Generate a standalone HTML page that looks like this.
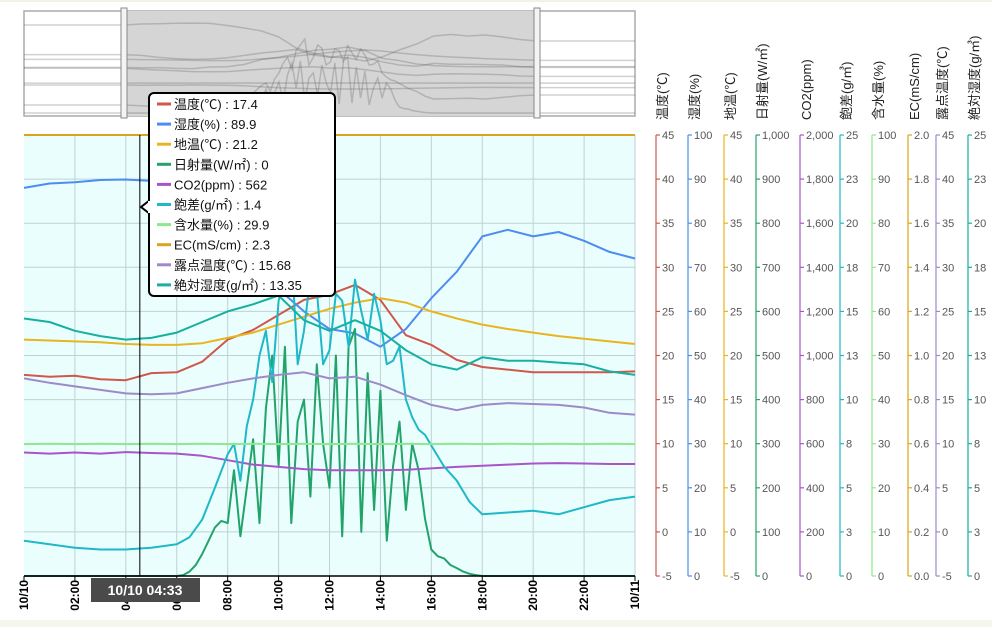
<!DOCTYPE html>
<html><head><meta charset="utf-8">
<style>
html,body{margin:0;padding:0;background:#fff;}
body{width:992px;height:627px;overflow:hidden;font-family:"Liberation Sans","Noto Sans CJK JP",sans-serif;}
svg text{font-family:"Liberation Sans","Noto Sans CJK JP",sans-serif;}
</style></head>
<body>
<svg id="chart" width="992" height="627" xmlns="http://www.w3.org/2000/svg">
<rect x="0" y="0" width="992" height="2" fill="#f3f3e3"/>
<rect x="0" y="620" width="992" height="7" fill="#f6f6ec"/>
<g id="nav"></g>
<g id="plot"></g>
<g id="axes"></g>
<g id="xaxis"></g>
<g id="tip"></g>
</svg>
<script>
const hoursHourly=[0,1,2,3,4,5,6,7,8,9,10,11,12,13,14,15,16,17,18,19,20,21,22,23,24];
const hoursHalf=[0,1,2,3,4,5,6,6.5,7,7.5,8,8.25,8.5,8.75,9,9.25,9.5,9.75,10,10.25,10.5,10.75,11,11.25,11.5,11.75,12,12.25,12.5,12.75,13,13.25,13.5,13.75,14,14.25,14.5,14.75,15,15.25,15.5,15.75,16,16.5,17,17.5,18,19,20,21,22,23,24];
const hoursSolar=[0,2,4,6,6.25,6.5,6.75,7,7.25,7.5,7.75,8,8.25,8.5,8.75,9,9.25,9.5,9.75,10,10.25,10.5,10.75,11,11.25,11.5,11.75,12,12.25,12.5,12.75,13,13.25,13.5,13.75,14,14.25,14.5,14.75,15,15.25,15.5,15.75,16,16.25,16.5,16.75,17,17.25,17.5,17.75,18,20,22,24];
const tempVals=[17.8,17.6,17.7,17.3,17.2,18.0,18.1,19.3,21.8,22.9,24.6,26.3,26.9,28.0,26.3,22.3,21.2,19.5,18.7,18.4,18.1,18.1,18.1,18.1,18.2];
const humVals=[88,89,89.3,89.8,89.9,89.6,87.5,85,82,76,65,60,56,55,52,56,63,69,77,78.5,77,78,76,73.5,72];
const soilTempVals=[21.8,21.7,21.6,21.5,21.3,21.2,21.2,21.4,22.0,22.6,23.5,24.4,25.3,26.0,26.5,26.0,25.0,24.2,23.5,23.0,22.6,22.2,21.9,21.6,21.3];
const solarVals=[0,0,0,0,2,10,25,50,80,110,125,120,240,90,200,310,120,380,500,250,520,120,350,400,180,480,300,200,500,90,520,560,100,460,150,420,80,250,350,150,300,240,130,60,45,40,25,18,10,5,2,0,0,0,0];
const co2Vals=[560,555,560,555,562,558,555,545,525,505,495,485,480,480,480,482,488,495,500,505,510,512,510,508,508];
const vpdVals=[2.0,1.8,1.6,1.5,1.5,1.6,1.8,2.2,3.2,5,6.9,7.5,5.4,8.5,10.0,12.5,13.9,11,15.6,17,18.5,12,13.9,17,16.2,12,12.8,16,15.6,13,16.8,15,13.4,16,14.5,12,12.2,13,10.0,9,8.3,8,7.4,6.2,5.4,4.2,3.5,3.6,3.7,3.5,3.9,4.3,4.5];
const moistureVals=[29.9,30,29.9,30,29.9,30,29.9,30,29.9,30,29.9,30,29.9,30,29.9,30,29.9,30,29.9,30,29.9,30,29.9,30,29.9];
const ecVals=[2.3,2.3,2.3,2.3,2.3,2.3,2.3,2.3,2.3,2.3,2.3,2.3,2.3,2.3,2.3,2.3,2.3,2.3,2.3,2.3,2.3,2.3,2.3,2.3,2.3];
const dewVals=[17.4,16.9,16.5,16.1,15.7,15.6,15.7,16.3,16.9,17.4,17.8,18.1,17.4,17.6,16.7,15.5,14.4,13.8,14.4,14.6,14.5,14.4,14.1,13.5,13.3];
const absHumVals=[14.6,14.4,13.9,13.6,13.4,13.5,13.8,14.4,15.0,15.4,15.9,14.5,13.9,14.5,13.9,12.8,12.0,11.7,12.4,12.2,12.2,12.1,12.0,11.6,11.4];
const xTickLabels=["10/10","02:00","04:00","06:00","08:00","10:00","12:00","14:00","16:00","18:00","20:00","22:00","10/11"];
const tipLabels=["温度(℃) : 17.4","湿度(%) : 89.9","地温(℃) : 21.2","日射量(W/㎡) : 0","CO2(ppm) : 562","飽差(g/㎡) : 1.4","含水量(%) : 29.9","EC(mS/cm) : 2.3","露点温度(℃) : 15.68","絶対湿度(g/㎡) : 13.35"];

const NS="http://www.w3.org/2000/svg";
const X0=24,X1=635,Y0=135,Y1=576;
function el(tag,attrs,parent){const e=document.createElementNS(NS,tag);for(const k in attrs)e.setAttribute(k,attrs[k]);parent.appendChild(e);return e;}
function xs(h){return X0+(X1-X0)*h/24;}
function ys(v,min,max){let f=(v-min)/(max-min);f=Math.max(0,Math.min(1,f));return Y1-(Y1-Y0)*f;}

const series=[
 {name:"温度(℃)",key:"temp",t:hoursHourly,v:tempVals,min:-5,max:45,color:"#d0574b",ax:656,ticks:[-5,0,5,10,15,20,25,30,35,40,45]},
 {name:"湿度(%)",key:"hum",t:hoursHourly,v:humVals,min:0,max:100,color:"#4d8cf0",ax:688,ticks:[0,10,20,30,40,50,60,70,80,90,100]},
 {name:"地温(℃)",key:"soil",t:hoursHourly,v:soilTempVals,min:-5,max:45,color:"#e8b520",ax:724,ticks:[-5,0,5,10,15,20,25,30,35,40,45]},
 {name:"日射量(W/㎡)",key:"solar",t:hoursSolar,v:solarVals,min:0,max:1000,color:"#22a36a",ax:756,ticks:[0,100,200,300,400,500,600,700,800,900,1000],fmt:1},
 {name:"CO2(ppm)",key:"co2",t:hoursHourly,v:co2Vals,min:0,max:2000,color:"#a855c8",ax:800,ticks:[0,200,400,600,800,1000,1200,1400,1600,1800,2000],fmt:1},
 {name:"飽差(g/㎥)",key:"vpd",t:hoursHalf,v:vpdVals,min:0,max:25,color:"#1eb8c8",ax:840,ticks:["0","3","5","8","10","13","15","18","20","23","25"]},
 {name:"含水量(%)",key:"moist",t:hoursHourly,v:moistureVals,min:0,max:100,color:"#8ee88e",ax:872,ticks:[0,10,20,30,40,50,60,70,80,90,100]},
 {name:"EC(mS/cm)",key:"ec",t:hoursHourly,v:ecVals,min:0,max:2,color:"#d9a520",ax:908,ticks:["0.0","0.2","0.4","0.6","0.8","1.0","1.2","1.4","1.6","1.8","2.0"]},
 {name:"露点温度(℃)",key:"dew",t:hoursHourly,v:dewVals,min:-5,max:45,color:"#9d8ac8",ax:936,ticks:[-5,0,5,10,15,20,25,30,35,40,45]},
 {name:"絶対湿度(g/㎥)",key:"abs",t:hoursHourly,v:absHumVals,min:0,max:25,color:"#17b0a0",ax:968,ticks:["0","3","5","8","10","13","15","18","20","23","25"]}
];

// navigator
const nav=document.getElementById('nav');
let r=el('rect',{x:24,y:11,width:611,height:105,fill:'#fff',stroke:'#aaa','stroke-width':1.5},nav);


r=el('rect',{x:124,y:11,width:413,height:105,fill:'#d5d5d5'},nav);


series.forEach(s=>{
  if(s.key==='ec')return;
  const nx=h=>124+413*h/24, ny=v=>{let f=(v-s.min)/(s.max-s.min);f=Math.max(0,Math.min(1,f));return 113-100*f;};
  let d='M24,'+ny(s.v[0]).toFixed(1)+' L'+nx(0)+','+ny(s.v[0]).toFixed(1);
  s.t.forEach((h,i)=>{d+=' L'+nx(h).toFixed(1)+','+ny(s.v[i]).toFixed(1);});
  d+=' L635,'+ny(s.v[s.v.length-1]).toFixed(1);
  const p=el('path',{d:d,fill:'none',stroke:'rgba(90,90,90,0.28)','stroke-width':1.5},nav);
  
  
});
[124,537].forEach((x,i)=>{
  const h=el('rect',{x:x-3,y:8,width:6,height:110,fill:'#f4f4f4',stroke:'#888','stroke-width':1},nav);
  
  
});

// plot
const plot=document.getElementById('plot');
r=el('rect',{x:X0,y:Y0,width:X1-X0,height:Y1-Y0,fill:'#eafefe'},plot);


for(let i=1;i<10;i++){const y=Y0+i*(Y1-Y0)/10;const g=el('line',{x1:X0,x2:X1,y1:y,y2:y,stroke:'#bfd2d2','stroke-width':1},plot);}
for(let i=1;i<=12;i++){const x=xs(i*2);const g=el('line',{x1:x,x2:x,y1:Y0,y2:Y1,stroke:'#bfd2d2','stroke-width':1},plot);}
series.forEach(s=>{
  let d='';s.t.forEach((h,i)=>{d+=(i?' L':'M')+xs(h).toFixed(1)+','+ys(s.v[i],s.min,s.max).toFixed(1);});
  const p=el('path',{d:d,fill:'none',stroke:s.color,'stroke-width':2,'stroke-linejoin':'round'},plot);
  
  
});
let l=el('line',{x1:X0,x2:X1,y1:Y1,y2:Y1,stroke:'#000','stroke-width':1.5},plot);


l=el('line',{x1:xs(4.55),x2:xs(4.55),y1:Y0,y2:Y1,stroke:'#000','stroke-width':1},plot);



// y axes
const axes=document.getElementById('axes');
series.forEach(s=>{
  const g=el('g',{},axes);
  
  
  el('line',{x1:s.ax,x2:s.ax,y1:Y0,y2:Y1,stroke:s.color,'stroke-width':1.2},g);
  s.ticks.forEach((t,i)=>{
    const y=Y1-i*(Y1-Y0)/10;
    el('line',{x1:s.ax,x2:s.ax+4,y1:y,y2:y,stroke:s.color,'stroke-width':1.2},g);
    let lab=typeof t==='number'?(s.fmt?t.toLocaleString('en-US'):String(t)):t;
    const tx=el('text',{x:s.ax+6,y:y+4,'font-size':11,fill:'#555'},g);tx.textContent=lab;
    
    
  });
  const tt=el('text',{x:0,y:0,'font-size':13,fill:'#222',transform:'translate('+(s.ax+11)+',120) rotate(-90)'},g);
  tt.textContent=s.name;
  
  
});

// x axis
const xa=document.getElementById('xaxis');
xTickLabels.forEach((lab,i)=>{
  const x=xs(i*2);
  el('line',{x1:x,x2:x,y1:Y1,y2:Y1+5,stroke:'#000','stroke-width':1},xa);
  const t=el('text',{x:0,y:0,'font-size':12,'font-weight':'bold',fill:'#000','text-anchor':'end',transform:'translate('+(x+4)+',580) rotate(-90)'},xa);
  t.textContent=lab;
  
  
});
const xl=el('g',{},xa);


el('rect',{x:91,y:578,width:109,height:24,fill:'#4a4a4a'},xl);
const xlt=el('text',{x:145,y:595,'font-size':14,'font-weight':'bold',fill:'#fff','text-anchor':'middle'},xl);
xlt.textContent='10/10 04:33';

// tooltip
const tip=document.getElementById('tip');
el('path',{d:'M150,200 L141,207 L150,214',fill:'#fff',stroke:'#000','stroke-width':2},tip);
r=el('rect',{x:149,y:93,width:186,height:203,rx:5,fill:'#fff',stroke:'#000','stroke-width':2},tip);


el('rect',{x:148,y:201,width:4,height:12,fill:'#fff'},tip);
tipLabels.forEach((lab,i)=>{
  const y=104+i*20.1;
  el('rect',{x:157,y:y-1.5,width:14,height:3,fill:series[i].color},tip);
  const t=el('text',{x:174,y:y+5,'font-size':13,fill:'#111'},tip);
  t.textContent=lab;
  
  
});
</script>
</body></html>
